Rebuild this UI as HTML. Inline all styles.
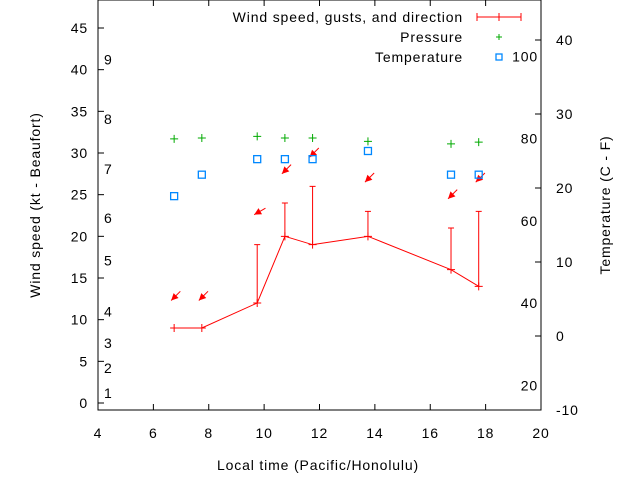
<!DOCTYPE html>
<html><head><meta charset="utf-8"><style>
body{margin:0;background:#fff}
svg{display:block;font-family:"Liberation Sans",sans-serif;font-size:14px}
text{letter-spacing:0.85px}
</style></head><body>
<svg id="c" width="640" height="480"></svg>
<script>
const times=[6.75,7.75,9.75,10.75,11.75,13.75,16.75,17.75];
const speeds=[9,9,12,20,19,20,16,14];
const gusts=[null,null,19,24,26,23,21,23];
const arrowY=[12.3,12.3,22.6,27.5,29.5,26.5,24.5,26.5];
const dirs=[45,45,60,45,45,45,45,45];
const pressure=[31.7,31.8,32,31.8,31.8,31.4,31.1,31.3];
const temps=[18.9,21.8,23.9,23.9,23.9,25.0,21.8,21.8];
const xTicks=[4,6,8,10,12,14,16,18,20];
const yTicks=[0,5,10,15,20,25,30,35,40,45];
const y2Ticks=[-10,0,10,20,30,40];
const beaufort=[[1,1.2],[2,4.2],[3,7.2],[4,11],[5,17.1],[6,22.2],[7,28.1],[8,34.1],[9,41.2]];
const fahr=[20,40,60,80,100];
const NS='http://www.w3.org/2000/svg',s=document.getElementById('c');
const L=98,R=541,T=0,B=410;
const X=v=>L+(v-4)*(R-L)/16;
const Y=v=>403-v*(375/45);
const Y2=v=>336-v*7.4;
const YF=f=>Y2((f-32)*5/9);
function el(t,a,name,txt){const e=document.createElementNS(NS,t);for(const k in a)e.setAttribute(k,a[k]);


if(txt!==undefined)e.textContent=txt;s.appendChild(e);return e;}
el('rect',{x:L,y:T,width:R-L,height:B-T,fill:'none',stroke:'#000'},'plot-frame');
xTicks.forEach(v=>{const x=X(v);el('line',{x1:x,y1:B,x2:x,y2:B-6,stroke:'#000'},'x-tick');el('line',{x1:x,y1:T,x2:x,y2:T+6,stroke:'#000'},'x-tick-top');
el('text',{x:x,y:B+28,'text-anchor':'middle'},'x-tick-label',v);});
yTicks.forEach(v=>{const y=Y(v);el('line',{x1:L,y1:y,x2:L+6,y2:y,stroke:'#000'},'y-tick');el('text',{x:L-10,y:y+5,'text-anchor':'end'},'y-tick-label',v);});
y2Ticks.forEach(v=>{const y=Y2(v);el('line',{x1:R,y1:y,x2:R-6,y2:y,stroke:'#000'},'y2-tick');el('text',{x:R+15,y:y+5},'y2-tick-label',v);});
beaufort.forEach(b=>el('text',{x:104,y:Y(b[1])+5},'beaufort-label',b[0]));
fahr.forEach(f=>el('text',{x:538,y:YF(f)+5,'text-anchor':'end'},'fahrenheit-label',f));
el('text',{x:318,y:470,'text-anchor':'middle'},'x-axis-title','Local time (Pacific/Honolulu)');
el('text',{transform:'translate(40,205) rotate(-90)','text-anchor':'middle'},'y-axis-title','Wind speed (kt - Beaufort)');
el('text',{transform:'translate(610,205) rotate(-90)','text-anchor':'middle'},'y2-axis-title','Temperature (C - F)');
el('polyline',{points:times.map((t,i)=>X(t)+','+Y(speeds[i])).join(' '),fill:'none',stroke:'#f00'},'wind-speed-line');
times.forEach((t,i)=>{const x=X(t),y=Y(speeds[i]);
el('path',{d:`M${x-4},${y}H${x+4}M${x},${y-4}V${y+4}`,stroke:'#f00'},'wind-point');
if(gusts[i]!=null){const g=Y(gusts[i]);el('path',{d:`M${x},${y}V${g}M${x-3},${g}H${x+3}`,stroke:'#f00'},'gust-bar');}
const ay=Y(arrowY[i]),ax=x-3,a=dirs[i]*Math.PI/180,dx=Math.sin(a)*13,dy=-Math.cos(a)*13;
el('line',{x1:ax,y1:ay,x2:ax+dx,y2:ay+dy,stroke:'#f00'},'wind-direction-arrow');
const ux=dx/13,uy=dy/13,px=-uy,py=ux;
el('polygon',{points:`${ax},${ay} ${ax+ux*7+px*3.5},${ay+uy*7+py*3.5} ${ax+ux*7-px*3.5},${ay+uy*7-py*3.5}`,fill:'#f00'},'arrow-head');
el('path',{d:`M${x-4},${Y(pressure[i])}h8M${x},${Y(pressure[i])-4}v8`,stroke:'#0a0'},'pressure-point');
el('rect',{x:x-3.5,y:Y2(temps[i])-3.5,width:7,height:7,fill:'none',stroke:'#08f','stroke-width':1.3},'temperature-point');});
el('text',{x:463,y:22,'text-anchor':'end'},'legend-wind-label','Wind speed, gusts, and direction');
el('path',{d:'M477,17H521M477,13V21M499,13V21M521,13V21',stroke:'#f00'},'legend-wind-symbol');
el('text',{x:463,y:42,'text-anchor':'end'},'legend-pressure-label','Pressure');
el('path',{d:'M496,37h6M499,34v6',stroke:'#0a0'},'legend-pressure-symbol');
el('text',{x:463,y:62,'text-anchor':'end'},'legend-temperature-label','Temperature');
el('rect',{x:496,y:54,width:6,height:6,fill:'none',stroke:'#08f','stroke-width':1.3},'legend-temperature-symbol');
</script></body></html>
